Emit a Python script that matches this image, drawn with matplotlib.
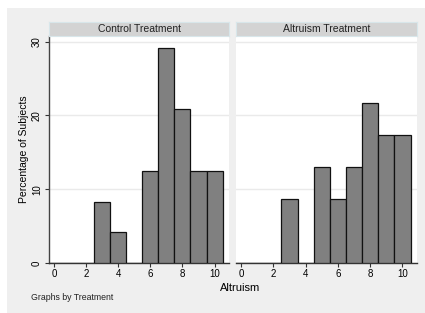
import numpy as np
import matplotlib
matplotlib.use("Agg")
import matplotlib.pyplot as plt
from matplotlib.patches import Rectangle

plt.rcParams['font.family'] = ['Liberation Sans', 'DejaVu Sans']

# data (percent of subjects per altruism score)
scores = [0, 1, 2, 3, 4, 5, 6, 7, 8, 9, 10]
control_pct = [0, 0, 0, 8.33, 4.17, 0, 12.5, 29.17, 20.83, 12.5, 12.5]
altruism_pct = [0, 0, 0, 8.7, 0, 13.04, 8.7, 13.04, 21.74, 17.39, 17.39]
panel_titles = ["Control Treatment", "Altruism Treatment"]
xticks = [0, 2, 4, 6, 8, 10]
yticks = [0, 10, 20, 30]

W, H = 425, 313
fig = plt.figure(figsize=(W / 100, H / 100), dpi=100)
fig.patch.set_facecolor("white")

def box(x0, y0, x1, y1):
    """pixel box -> figure fraction [left, bottom, width, height]"""
    return [x0 / W, 1 - y1 / H, (x1 - x0) / W, (y1 - y0) / H]

# stata style gray graph region
fig.patches.append(Rectangle((7 / W, 0), 1 - 7 / W, 1 - 8 / H, transform=fig.transFigure,
                             facecolor="#efefef", edgecolor="none", zorder=-10))

panels = [(49, 229, control_pct), (236, 417, altruism_pct)]
for i, (x0, x1, pct) in enumerate(panels):
    ax = fig.add_axes(box(x0, 36, x1, 263))
    ax.set_facecolor("white")
    ax.bar(scores, pct, width=1.0, color="#808080", edgecolor="#111111", linewidth=0.9, zorder=3)
    ax.set_xlim(-0.32, 10.9)
    ax.set_ylim(0, 30.75)
    ax.set_yticks(yticks)
    ax.set_xticks(xticks)
    ax.grid(axis="y", color="#eaeaea", linewidth=1.0, zorder=0)
    for s in ["top", "right"]:
        ax.spines[s].set_visible(False)
    ax.spines["bottom"].set_color("#333333")
    ax.spines["bottom"].set_linewidth(1.0)
    ax.tick_params(axis="x", length=3, width=0.8, color="#333333", labelsize=7, pad=1.5)
    if i == 0:
        ax.spines["left"].set_color("#444444")
        ax.spines["left"].set_linewidth(1.0)
        ax.tick_params(axis="y", length=3, width=0.8, color="#333333", labelsize=7, pad=2)
        for lab in ax.get_yticklabels():
            lab.set_rotation(90)
            lab.set_va("center")
        ax.set_ylabel("Percentage of Subjects", fontsize=7.5, labelpad=2)
    else:
        ax.spines["left"].set_visible(False)
        ax.tick_params(axis="y", length=0, labelleft=False)

    # strip on top of each panel
    sax = fig.add_axes(box(x0, 22, x1, 36))
    sax.set_facecolor("#d3d3d3")
    for s in sax.spines.values():
        s.set_color("#d8e6ea")
        s.set_linewidth(0.8)
    sax.set_xticks([])
    sax.set_yticks([])
    sax.text(0.5, 0.5, panel_titles[i], ha="center", va="center", fontsize=7.5,
             color="#222222", transform=sax.transAxes)

fig.text(240 / W, 1 - 288 / H, "Altruism", ha="center", va="center", fontsize=8)
fig.text(31 / W, 1 - 298 / H, "Graphs by Treatment", ha="left", va="center", fontsize=6.3,
         color="#222222")

fig.savefig("out.png", dpi=100)
